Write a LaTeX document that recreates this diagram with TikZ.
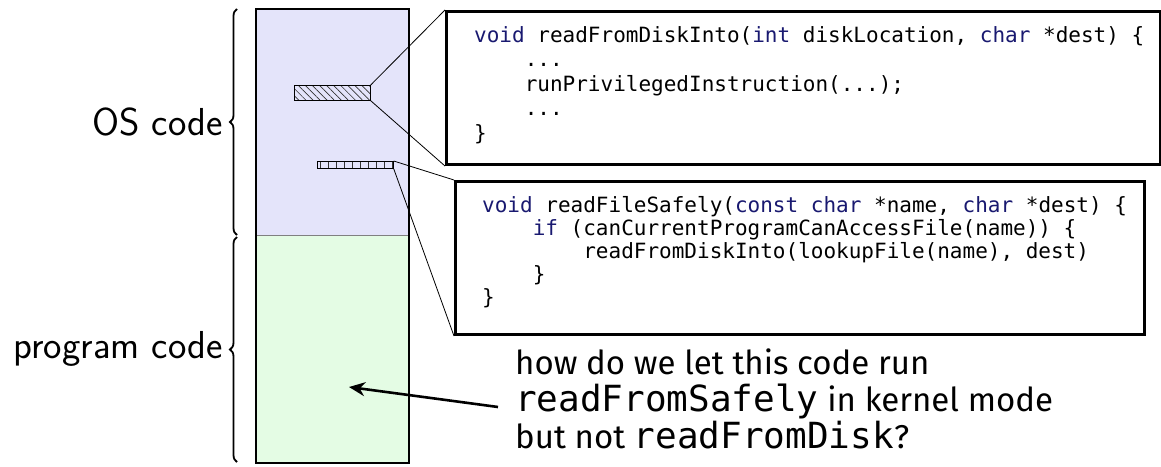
\documentclass[tikz,border=0pt]{standalone}
\usepackage{fontspec}
\usetikzlibrary{arrows.meta,patterns.meta,decorations.pathreplacing}
\newfontfamily\qfont{Fira Sans}
\newfontfamily\codefont{DejaVu Sans Mono}
\definecolor{osblue}{RGB}{228,228,250}
\definecolor{proggreen}{RGB}{228,252,228}
\definecolor{kwblue}{RGB}{25,25,112}
\newcommand\kw[1]{\textcolor{kwblue}{#1}}
\newcommand\ind{\phantom{0000}}
\tikzset{
  region/.style={draw=gray, line width=1pt, anchor=north west, inner sep=0pt},
  codebox/.style={draw=black, line width=3pt, fill=white, anchor=north west, inner sep=0pt},
  codetext/.style={anchor=north west, inner sep=0pt, align=left, font=\codefont\fontsize{21}{24.5}\selectfont},
  hatchbox/.style={draw=black, line width=0.6pt, anchor=north west, inner sep=0pt},
  zoomline/.style={line width=0.8pt},
  lbl/.style={anchor=base east, inner sep=0pt, font=\sffamily\fontsize{39}{42}\selectfont},
  bracestyle/.style={decorate, decoration={brace, amplitude=7pt}, line width=1.8pt},
}
\begin{document}
\begin{tikzpicture}[x=1pt,y=-1pt]
\useasboundingbox (0,0) rectangle (1161,466);
% memory column
\node[region, fill=osblue, minimum width=152, minimum height=226] (os) at (256,9) {};
\node[region, fill=proggreen, minimum width=152, minimum height=227] (prog) at (256,235) {};
\draw[line width=2pt] (os.north west) rectangle (prog.south east);
% braces and labels
\draw[bracestyle] (237,235) -- (237,9);
\draw[bracestyle] (237,462) -- (237,237);
\node[lbl] (oslbl) at (223,135) {OS code};
\node[lbl] (proglbl) at (223,358) {program code};
% hatched blocks
\node[hatchbox, pattern={Lines[angle=-45,distance=5pt,line width=0.7pt]}, pattern color=black!80, minimum width=76, minimum height=15] (h1) at (294,85) {};
\node[hatchbox, pattern={Lines[angle=90,distance=8pt,line width=0.7pt]}, pattern color=black!80, minimum width=76, minimum height=7] (h2) at (317,161) {};
% code boxes
\node[codebox, minimum width=714, minimum height=153] (box1) at (445,10) {};
\node[codebox, minimum width=689, minimum height=153] (box2) at (454,180) {};
\draw[zoomline] (h1.north east) -- (box1.north west);
\draw[zoomline] (h1.south east) -- (box1.south west);
\draw[zoomline] (h2.north east) -- (box2.north west);
\draw[zoomline] (h2.south east) -- (box2.south west);
\node[codetext] (code1) at (474,26) {\kw{void} readFromDiskInto(\kw{int} diskLocation, \kw{char} *dest) \{\\
\ind...\\
\ind runPrivilegedInstruction(...);\\
\ind...\\
\}};
\node[codetext, font=\codefont\fontsize{21}{23}\selectfont] (code2) at (482,196) {\kw{void} readFileSafely(\kw{const} \kw{char} *name, \kw{char} *dest) \{\\
\ind\kw{if} (canCurrentProgramCanAccessFile(name)) \{\\
\ind\ind readFromDiskInto(lookupFile(name), dest)\\
\ind\}\\
\}};
% question
\node[anchor=north west, inner sep=0pt, align=left, font=\qfont\fontsize{33}{37}\selectfont] (q) at (515,349) {how do we let this code run\\
{\codefont\fontsize{36}{37}\selectfont readFromSafely} in kernel mode\\
but not {\codefont\fontsize{36}{37}\selectfont readFromDisk}?};
\coordinate (qtail) at (498,407);
\coordinate (target) at (349,387);
\draw[line width=2.6pt, -{Stealth[length=16pt,width=14pt]}] (qtail) -- (target);
\end{tikzpicture}
\end{document}
